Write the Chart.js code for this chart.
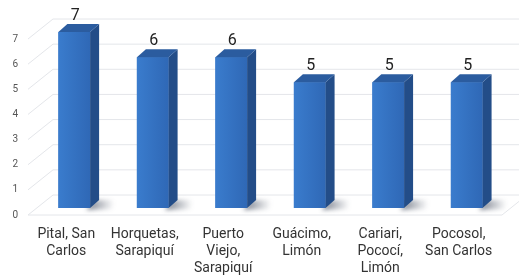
<!DOCTYPE html>
<html>
<head>
<meta charset="utf-8">
<script src="https://cdn.jsdelivr.net/npm/chart.js@4/dist/chart.umd.min.js"></script>
<style>
html,body{margin:0;padding:0;background:#fff;}
canvas{display:block;}
</style>
</head>
<body>
<canvas id="c" width="519" height="275"></canvas>
<script>
const categories = [
  ["Pital, San", "Carlos"],
  ["Horquetas,", "Sarapiquí"],
  ["Puerto", "Viejo,", "Sarapiquí"],
  ["Guácimo,", "Limón"],
  ["Cariari,", "Pococí,", "Limón"],
  ["Pocosol,", "San Carlos"]
];
const values = [7, 6, 6, 5, 5, 5];
const yTicks = [0, 1, 2, 3, 4, 5, 6, 7];

const DX = 9, DY = -8;       // bar depth
const FRONT_DY = 7;          // front wall offset
const BACK_DY = -13;         // back wall offset
const FRONT_X = 28, BACK_X = 53;

const wallPlugin = {
  id: 'walls',
  beforeDraw(chart) {
    const ctx = chart.ctx;
    ctx.save();
    ctx.fillStyle = '#fff';
    ctx.fillRect(0, 0, chart.width, chart.height);
    ctx.restore();
  },
  beforeDatasetsDraw(chart) {
    const ctx = chart.ctx;
    const ys = chart.scales.y;
    ctx.save();
    ctx.strokeStyle = '#e4e6ea';
    ctx.lineWidth = 1;
    yTicks.forEach(v => {
      const yb = ys.getPixelForValue(v);
      ctx.beginPath();
      ctx.moveTo(FRONT_X, yb + FRONT_DY);
      ctx.lineTo(BACK_X, yb + BACK_DY);
      ctx.lineTo(chart.width, yb + BACK_DY);
      ctx.stroke();
    });
    const y0 = ys.getPixelForValue(0);
    ctx.beginPath();
    ctx.moveTo(FRONT_X, y0 + FRONT_DY);
    ctx.lineTo(502, y0 + FRONT_DY);
    ctx.lineTo(527, y0 + BACK_DY);
    ctx.stroke();
    // shadows
    const meta = chart.getDatasetMeta(0);
    meta.data.forEach(bar => {
      const r = bar.x + bar.width / 2;
      const base = bar.base;
      ctx.save();
      const g = ctx.createLinearGradient(r, 0, r + 24, 0);
      g.addColorStop(0, 'rgba(40,50,70,0.55)');
      g.addColorStop(1, 'rgba(40,50,70,0)');
      ctx.fillStyle = g;
      ctx.filter = 'blur(2px)';
      ctx.beginPath();
      ctx.moveTo(r - 4, base + 2);
      ctx.lineTo(r + 22, base + 1);
      ctx.lineTo(r + 26, base - 8);
      ctx.lineTo(r + 4, base - 8);
      ctx.closePath();
      ctx.fill();
      ctx.restore();
    });
    ctx.restore();
  },
  afterDatasetsDraw(chart) {
    const ctx = chart.ctx;
    const meta = chart.getDatasetMeta(0);
    ctx.save();
    meta.data.forEach((bar, i) => {
      const l = bar.x - bar.width / 2;
      const r = bar.x + bar.width / 2;
      const t = bar.y;
      const b = bar.base;
      // front gradient overlay
      const fg = ctx.createLinearGradient(l, 0, r, 0);
      fg.addColorStop(0, '#3a7ccd');
      fg.addColorStop(1, '#2f68b6');
      ctx.fillStyle = fg;
      ctx.fillRect(l, t, r - l, b - t);
      // side
      ctx.fillStyle = '#234d88';
      ctx.beginPath();
      ctx.moveTo(r, t);
      ctx.lineTo(r + DX, t + DY);
      ctx.lineTo(r + DX, b + DY);
      ctx.lineTo(r, b);
      ctx.closePath();
      ctx.fill();
      // top
      ctx.fillStyle = '#2b5c9f';
      ctx.beginPath();
      ctx.moveTo(l, t);
      ctx.lineTo(l + DX, t + DY);
      ctx.lineTo(r + DX, t + DY);
      ctx.lineTo(r, t);
      ctx.closePath();
      ctx.fill();
      // value label
      ctx.fillStyle = '#222';
      ctx.font = '16px Roboto';
      ctx.textAlign = 'center';
      ctx.textBaseline = 'middle';
      ctx.fillText(String(values[i]), bar.x + 1, t - 16);
    });
    ctx.restore();
  }
};

new Chart(document.getElementById('c'), {
  type: 'bar',
  data: {
    labels: categories,
    datasets: [{
      data: values,
      backgroundColor: '#3371c2',
      borderWidth: 0,
      barPercentage: 0.404,
      categoryPercentage: 1
    }]
  },
  options: {
    responsive: false,
    animation: false,
    devicePixelRatio: 1,
    layout: { padding: { top: 32, right: 8, bottom: 0, left: 0 } },
    plugins: { legend: { display: false }, tooltip: { enabled: false } },
    scales: {
      x: {
        grid: { display: false, drawTicks: false },
        border: { display: false },
        afterFit(s) { s.height = 67; },
        ticks: {
          color: '#333',
          font: { family: 'Roboto', size: 14, lineHeight: 1.2 },
          padding: 18,
          labelOffset: -8,
          maxRotation: 0,
          autoSkip: false
        }
      },
      y: {
        min: 0, max: 7,
        grid: { display: false, drawTicks: false },
        border: { display: false },
        afterFit(s) { s.width = 35; },
        ticks: {
          stepSize: 1,
          color: '#555',
          font: { family: 'Roboto', size: 10 },
          padding: 17,
          labelOffset: 7
        }
      }
    }
  },
  plugins: [wallPlugin]
});
</script>
</body>
</html>
